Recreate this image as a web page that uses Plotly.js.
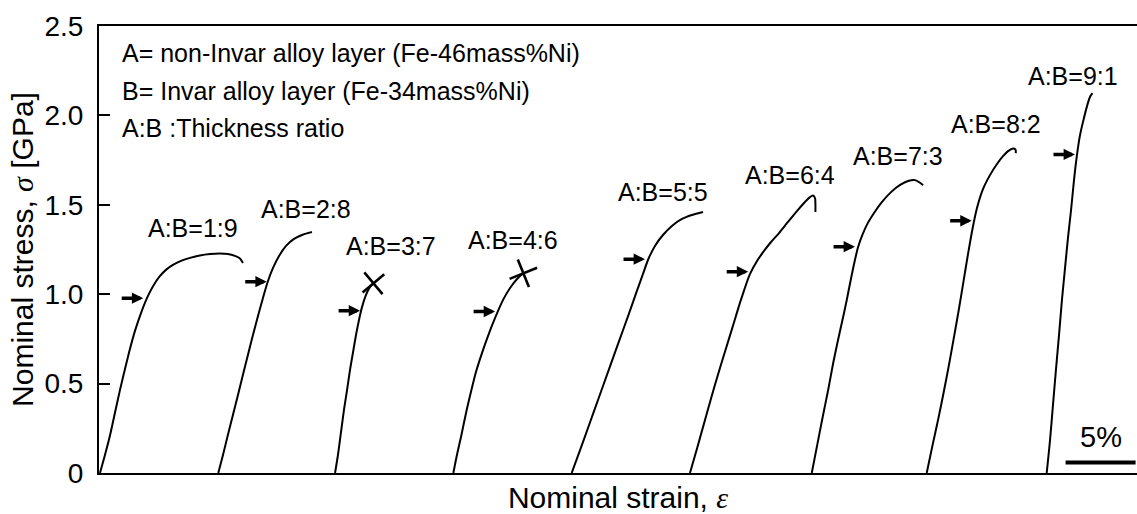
<!DOCTYPE html>
<html>
<head>
<meta charset="utf-8">
<script src="https://cdn.plot.ly/plotly-3.0.1.min.js"></script>
<style>html,body{margin:0;padding:0;background:#fff;overflow:hidden}</style>
</head>
<body>
<div id="chart" style="width:1137px;height:514px"></div>
<script>
// Thickness ratios A:B
const ratios = ['1:9','2:8','3:7','4:6','5:5','6:4','7:3','8:2','9:1'];
// Horizontal offset (strain, %) at which each curve is drawn
const strainOffset = [0.07, 8.52, 16.86, 25.31, 33.76, 42.21, 50.91, 59.12, 67.69];

// Nominal strain (%) from each curve's own origin, and nominal stress (GPa)
const strain_1_9 = [0,0.36,0.71,1.07,1.43,1.79,2.14,2.50,2.86,3.21,3.57,3.93,4.29,4.71,5.21,5.79,6.43,7.14,7.86,8.57,9.14,9.64,10.00,10.21];
const stress_1_9 = [0,0.102,0.208,0.337,0.465,0.583,0.694,0.795,0.879,0.952,1.013,1.063,1.102,1.136,1.164,1.186,1.203,1.217,1.225,1.228,1.225,1.214,1.200,1.175];

const strain_2_8 = [0,0.34,0.69,1.05,1.41,1.76,2.12,2.48,2.84,3.19,3.55,3.91,4.34,4.84,5.41,5.98,6.41,6.69];
const stress_2_8 = [0,0.102,0.214,0.326,0.437,0.549,0.661,0.773,0.879,0.979,1.074,1.147,1.214,1.270,1.309,1.331,1.342,1.348];

const strain_3_7 = [0,0.21,0.43,0.64,0.86,1.07,1.29,1.50,1.71,1.93,2.21,2.50,2.74];
const stress_3_7 = [0,0.102,0.231,0.354,0.465,0.577,0.678,0.773,0.856,0.929,0.996,1.041,1.061];

const strain_4_6 = [0,0.26,0.55,0.91,1.26,1.62,2.05,2.48,2.98,3.55,4.05,4.55,5.00];
const stress_4_6 = [0,0.102,0.203,0.337,0.454,0.566,0.672,0.767,0.867,0.968,1.035,1.085,1.117];

const strain_5_5 = [0,0.56,1.25,1.94,2.65,3.34,4.06,4.61,5.07,5.48,5.95,6.52,7.16,7.88,8.59,9.38];
const stress_5_5 = [0,0.119,0.270,0.421,0.577,0.728,0.884,1.007,1.108,1.197,1.270,1.331,1.382,1.421,1.443,1.460];

const strain_6_4 = [0,0.50,1.00,1.50,2.00,2.50,3.07,3.64,4.29,4.79,5.29,5.79,6.36,7.00,7.64,8.21,8.57,8.79,8.93,8.96,8.96];
const stress_6_4 = [0,0.136,0.276,0.415,0.550,0.678,0.823,0.968,1.114,1.186,1.242,1.292,1.342,1.404,1.465,1.516,1.543,1.552,1.538,1.504,1.460];

const strain_7_3 = [0,0.38,0.74,1.16,1.52,1.88,2.24,2.50,2.74,3.02,3.31,3.63,3.99,4.45,5.02,5.66,6.31,6.88,7.38,7.95];
const stress_7_3 = [0,0.153,0.298,0.460,0.611,0.745,0.873,0.968,1.063,1.169,1.264,1.334,1.396,1.454,1.516,1.571,1.611,1.633,1.638,1.610];

const strain_8_2 = [0,0.41,0.83,1.22,1.59,1.95,2.29,2.61,2.94,3.27,3.59,4.02,4.52,5.02,5.45,5.81,6.16,6.34,6.36];
const stress_8_2 = [0,0.153,0.304,0.454,0.605,0.761,0.912,1.063,1.220,1.365,1.482,1.588,1.666,1.728,1.772,1.800,1.815,1.809,1.789];

const strain_9_1 = [0,0.24,0.45,0.66,0.88,1.09,1.31,1.52,1.74,1.95,2.16,2.38,2.66,2.88,3.09,3.27];
const stress_9_1 = [0,0.186,0.382,0.577,0.773,0.968,1.147,1.315,1.471,1.638,1.778,1.890,1.985,2.052,2.103,2.124];

// Arrow marks (strain from curve origin, stress)
const arrowStrain = [3.09, 3.46, 1.79, 2.98, 5.24, 4.16, 3.09, 3.21, 2.02];
const arrowStress = [0.978, 1.070, 0.908, 0.903, 1.196, 1.126, 1.266, 1.411, 1.782];

// Fracture marks (x) for 3:7 and 4:6
const fractureCurve = [2, 3];
const fractureStrain = [2.74, 5.00];
const fractureStress = [1.061, 1.117];

// Y axis ticks
const yTickVals = [0, 0.5, 1.0, 1.5, 2.0, 2.5];
const yTickText = ['0', '0.5', '1.0', '1.5', '2.0', '2.5'];

const legendLines = [
  'A= non-Invar alloy layer (Fe-46mass%Ni)',
  'B= Invar alloy layer (Fe-34mass%Ni)',
  'A:B :Thickness ratio'
];
const scaleBarPct = 5;

// ---- layout-only positions ----
const xMax = 74.14;
const labelPos = [[6.68,1.370],[14.79,1.477],[20.86,1.270],[29.56,1.303],[40.27,1.573],[49.36,1.666],[57.07,1.773],[64.05,1.951],[69.59,2.222]];
const legendPos = [[1.5,2.348],[1.5,2.136],[1.5,1.929]];

const strains = [strain_1_9,strain_2_8,strain_3_7,strain_4_6,strain_5_5,strain_6_4,strain_7_3,strain_8_2,strain_9_1];
const stresses = [stress_1_9,stress_2_8,stress_3_7,stress_4_6,stress_5_5,stress_6_4,stress_7_3,stress_8_2,stress_9_1];

const FONT = 'Arial, "Liberation Sans", sans-serif';
const greek = g => '<span style="font-family:\'Liberation Serif\',\'DejaVu Serif\',serif"><i>' + g + '</i></span>';

const traces = ratios.map((r, i) => ({
  type: 'scatter', mode: 'lines', name: 'A:B=' + r,
  x: strains[i].map(s => s + strainOffset[i]),
  y: stresses[i],
  line: {color: '#000', width: 2, shape: 'spline', smoothing: 0.8},
  hoverinfo: 'skip', showlegend: false
}));

traces.push({
  type: 'scatter', mode: 'markers',
  x: fractureCurve.map((c, k) => fractureStrain[k] + strainOffset[c]),
  y: fractureStress,
  marker: {symbol: 'x-thin', size: [20, 21], angle: [5, 23], color: '#000', opacity: 1,
           line: {color: '#000', width: 2.6}},
  hoverinfo: 'skip', showlegend: false
});

const annotations = [];
ratios.forEach((r, i) => {
  annotations.push({x: labelPos[i][0], y: labelPos[i][1], xref: 'x', yref: 'y',
    text: 'A:B=' + r, showarrow: false, xanchor: 'center', yanchor: 'middle',
    font: {family: FONT, size: 25, color: '#000'}});
  annotations.push({x: arrowStrain[i] + strainOffset[i], y: arrowStress[i], xref: 'x', yref: 'y',
    text: '', showarrow: true, ax: -23, ay: 0, axref: 'pixel', ayref: 'pixel',
    arrowhead: 2, arrowsize: 0.65, arrowwidth: 3.5, arrowcolor: '#000', standoff: 0});
});
legendLines.forEach((t, i) => {
  annotations.push({x: legendPos[i][0], y: legendPos[i][1], xref: 'x', yref: 'y',
    text: t, showarrow: false, xanchor: 'left', yanchor: 'middle',
    font: {family: FONT, size: 25, color: '#000'}});
});
annotations.push({x: xMax - 0.1 - scaleBarPct / 2, y: 0.204, xref: 'x', yref: 'y',
  text: scaleBarPct + '%', showarrow: false, xanchor: 'center', yanchor: 'middle',
  font: {family: FONT, size: 29, color: '#000'}});

const layout = {
  width: 1137, height: 514,
  margin: {l: 99, r: 0, t: 26, b: 41},
  paper_bgcolor: '#fff', plot_bgcolor: '#fff',
  font: {family: FONT, color: '#000'},
  xaxis: {
    range: [0, xMax], showticklabels: false, ticks: '', showgrid: false, zeroline: false,
    showline: true, mirror: true, linecolor: '#000', linewidth: 2,
    title: {text: 'Nominal strain, ' + greek('ε'), font: {family: FONT, size: 30, color: '#000'}, standoff: 14}
  },
  yaxis: {
    range: [0, 2.5], tickvals: yTickVals, ticktext: yTickText,
    ticks: 'inside', ticklen: 11, tickwidth: 2, tickcolor: '#000',
    tickfont: {family: FONT, size: 28, color: '#000'}, ticklabelstandoff: 8,
    showgrid: false, zeroline: false, showline: true, linecolor: '#000', linewidth: 2,
    title: {text: 'Nominal stress, ' + greek('σ') + ' [GPa]', font: {family: FONT, size: 30, color: '#000'}, standoff: 2}
  },
  shapes: [{type: 'line', xref: 'x', yref: 'y', x0: xMax - 0.1 - scaleBarPct, x1: xMax - 0.1,
            y0: 0.059, y1: 0.059, line: {color: '#000', width: 4}}],
  annotations: annotations,
  showlegend: false
};

Plotly.newPlot('chart', traces, layout, {displayModeBar: false, staticPlot: true});
</script>
</body>
</html>
